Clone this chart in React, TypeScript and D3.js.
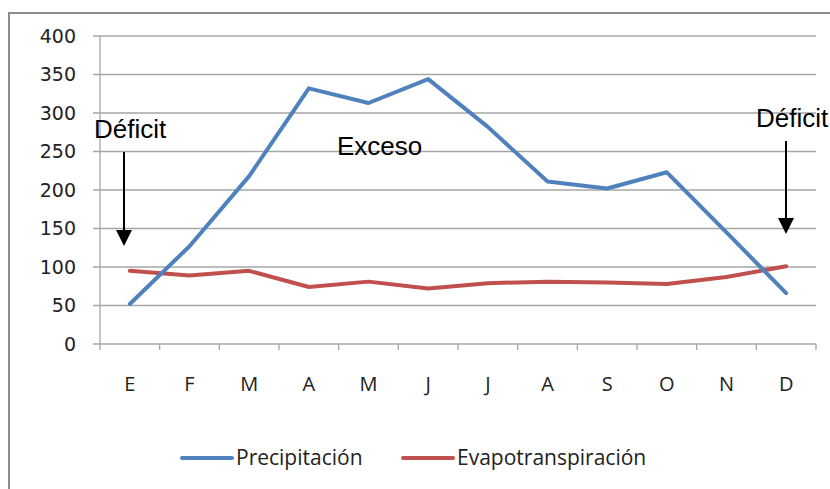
import React, { useEffect, useRef } from "react";
import * as d3 from "d3";

const months = ["E", "F", "M", "A", "M", "J", "J", "A", "S", "O", "N", "D"];
const precipitacion = [52, 127, 218, 332, 313, 344, 282, 211, 202, 223, 145, 66];
const evapotranspiracion = [95, 89, 95, 74, 81, 72, 79, 81, 80, 78, 87, 101];
const yTicks = [0, 50, 100, 150, 200, 250, 300, 350, 400];

const BLUE = "#4f81bd";
const RED = "#c0504d";

export default function App() {
    const ref = useRef<SVGSVGElement>(null);

    useEffect(() => {
        const svg = d3.select(ref.current);
        svg.selectAll("*").remove();

        const margin = { top: 36, right: 14, bottom: 145, left: 100 };
        const W = 830, H = 489;
        const width = W - margin.left - margin.right;
        const height = H - margin.top - margin.bottom;

        // outer frame (only top and left are visible in the picture)
        svg.append("path")
            .attr("d", `M9,${H} L9,13 L${W},13`)
            .attr("fill", "none")
            .attr("stroke", "#8c8c8c")
            .attr("stroke-width", 2);

        const body = svg.append("g")
            .attr("transform", "translate(" + margin.left + "," + margin.top + ")");

        const x = d3.scaleBand<number>()
            .domain(d3.range(months.length))
            .range([0, width]);
        const y = d3.scaleLinear().domain([0, 400]).range([height, 0]);

        // grid lines
        body.append("g")
            .selectAll("line")
            .data(yTicks)
            .enter()
            .append("line")
            .attr("x1", -7)
            .attr("x2", width)
            .attr("y1", d => y(d))
            .attr("y2", d => y(d))
            .attr("stroke", "#a6a6a6")
            .attr("stroke-width", 1.3);

        // y axis line
        body.append("line")
            .attr("x1", 0).attr("x2", 0)
            .attr("y1", 0).attr("y2", height)
            .attr("stroke", "#a6a6a6").attr("stroke-width", 1.3);

        // x tick marks
        body.append("g")
            .selectAll("line")
            .data(d3.range(months.length + 1))
            .enter()
            .append("line")
            .attr("x1", d => d * x.bandwidth())
            .attr("x2", d => d * x.bandwidth())
            .attr("y1", height)
            .attr("y2", height + 6)
            .attr("stroke", "#a6a6a6").attr("stroke-width", 1.3);

        // y labels
        body.append("g")
            .selectAll("text")
            .data(yTicks)
            .enter()
            .append("text")
            .attr("x", -24)
            .attr("y", d => y(d))
            .attr("dy", "0.36em")
            .attr("text-anchor", "end")
            .style("font-family", "DejaVu Sans, sans-serif")
            .style("font-size", "19px")
            .style("fill", "#222")
            .text(d => d);

        // x labels
        body.append("g")
            .selectAll("text")
            .data(months)
            .enter()
            .append("text")
            .attr("x", (d, i) => x(i)! + x.bandwidth() / 2)
            .attr("y", height + 47)
            .attr("text-anchor", "middle")
            .style("font-family", "Open Sans, sans-serif")
            .style("font-size", "20px")
            .style("fill", "#222")
            .text(d => d);

        const line = d3.line<number>()
            .x((d, i) => x(i)! + x.bandwidth() / 2)
            .y(d => y(d));

        body.append("path")
            .datum(evapotranspiracion)
            .attr("d", line)
            .attr("fill", "none")
            .attr("stroke", RED)
            .attr("stroke-width", 4)
            .attr("stroke-linejoin", "round")
            .attr("stroke-linecap", "round");

        body.append("path")
            .datum(precipitacion)
            .attr("d", line)
            .attr("fill", "none")
            .attr("stroke", BLUE)
            .attr("stroke-width", 4)
            .attr("stroke-linejoin", "round")
            .attr("stroke-linecap", "round");

        // annotations
        const ann = svg.append("g")
            .style("font-family", "Liberation Sans, Arial, sans-serif")
            .style("font-size", "26px")
            .style("fill", "#000");
        ann.append("text").attr("x", 94).attr("y", 138).text("Déficit");
        ann.append("text").attr("x", 337).attr("y", 155).text("Exceso");
        ann.append("text").attr("x", 756).attr("y", 127).text("Déficit");

        const arrow = (ax: number, y1: number, y2: number) => {
            ann.append("line")
                .attr("x1", ax).attr("x2", ax)
                .attr("y1", y1).attr("y2", y2 - 14)
                .attr("stroke", "#000").attr("stroke-width", 2);
            ann.append("path")
                .attr("d", `M${ax - 8},${y2 - 16} L${ax + 8},${y2 - 16} L${ax},${y2} Z`)
                .attr("fill", "#000");
        };
        arrow(124, 152, 246);
        arrow(786, 141, 234);

        // legend
        const legend = svg.append("g")
            .style("font-family", "Open Sans, sans-serif")
            .style("font-size", "21px")
            .style("fill", "#222");
        const items = [
            { label: "Precipitación", color: BLUE, x: 182 },
            { label: "Evapotranspiración", color: RED, x: 403 },
        ];
        items.forEach(it => {
            legend.append("line")
                .attr("x1", it.x).attr("x2", it.x + 50)
                .attr("y1", 458).attr("y2", 458)
                .attr("stroke", it.color).attr("stroke-width", 4)
                .attr("stroke-linecap", "round");
            legend.append("text")
                .attr("x", it.x + 54)
                .attr("y", 458)
                .attr("dy", "0.35em")
                .text(it.label);
        });
    }, []);

    return (
        <svg
            ref={ref}
            width={830}
            height={489}
            style={{ position: "absolute", left: 0, top: 0, background: "#fff" }}
        />
    );
}
